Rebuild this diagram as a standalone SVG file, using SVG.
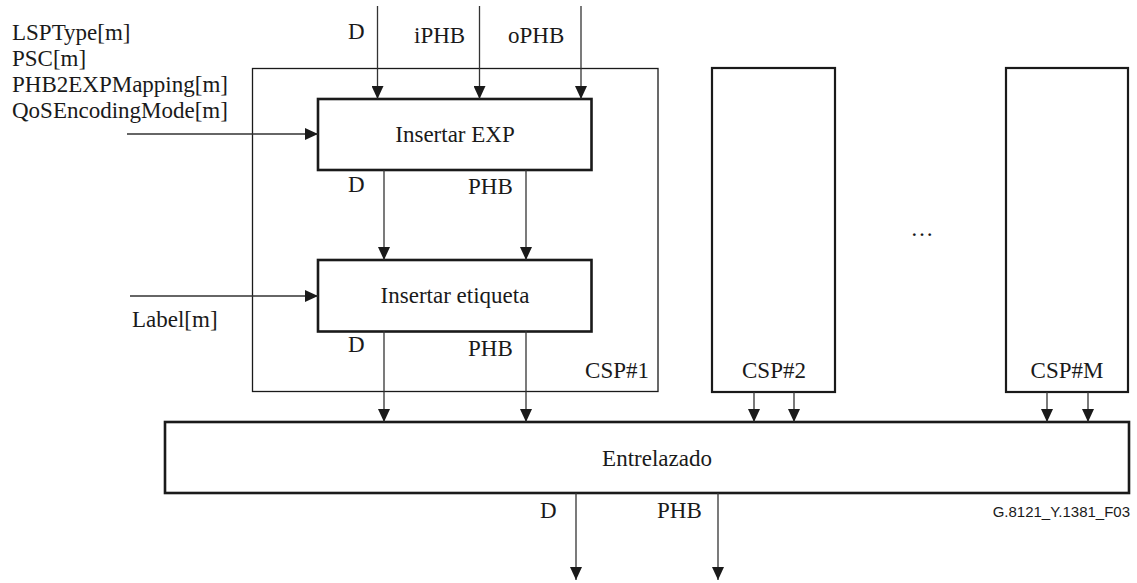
<svg xmlns="http://www.w3.org/2000/svg" width="1137" height="583" viewBox="0 0 1137 583">
  <style>
    .t { font-family: 'Liberation Serif', 'DejaVu Serif', serif; font-size: 23px; fill: #1a1a1a; }
    .c { text-anchor: middle; }
    .code { font-family: 'Liberation Sans', Arial, sans-serif; font-size: 15px; fill: #1a1a1a; text-anchor: end; }
    .blk { fill: #fff; stroke: #1a1a1a; stroke-width: 2.6; }
    .frame { fill: none; stroke: #1a1a1a; stroke-width: 1.3; }
    .csp { fill: #fff; stroke: #1a1a1a; stroke-width: 2.2; }
    .wire { fill: none; stroke: #333; stroke-width: 1.3; marker-end: url(#arr); }
  </style>
  <defs>
    <marker id="arr" viewBox="0 0 13 12" refX="13" refY="6" markerWidth="13" markerHeight="12" markerUnits="userSpaceOnUse" orient="auto">
      <path d="M0,0 L13,6 L0,12 Z" fill="#1a1a1a"/>
    </marker>
  </defs>

  <rect width="1137" height="583" fill="#fff"/>

  <!-- left-hand parameter list -->
  <g id="params">
    <text class="t" x="12" y="40">LSPType[m]</text>
    <text class="t" x="12" y="66">PSC[m]</text>
    <text class="t" x="12" y="92">PHB2EXPMapping[m]</text>
    <text class="t" x="12" y="118">QoSEncodingMode[m]</text>
    <text class="t" x="132" y="327">Label[m]</text>
  </g>

  <!-- CSP#1 enclosure -->
  <g id="csp1">
    <rect class="frame" x="252.5" y="68.5" width="405.5" height="323"/>
    <text class="t" x="649" y="378" text-anchor="end">CSP#1</text>
  </g>

  <g id="insertar-exp">
    <rect class="blk" x="318" y="99" width="273.5" height="71"/>
    <text class="t c" x="455" y="142">Insertar EXP</text>
  </g>

  <g id="insertar-etiqueta">
    <rect class="blk" x="318" y="260" width="273.5" height="71.5"/>
    <text class="t c" x="455" y="303">Insertar etiqueta</text>
  </g>

  <g id="csp2">
    <rect class="csp" x="712" y="68" width="123" height="324"/>
    <text class="t c" x="774" y="378">CSP#2</text>
  </g>

  <g id="cspM">
    <rect class="csp" x="1006" y="68" width="122" height="324"/>
    <text class="t c" x="1067" y="378">CSP#M</text>
  </g>

  <g id="ellipsis">
    <text class="t c" x="922" y="236">…</text>
  </g>

  <g id="entrelazado">
    <rect class="blk" x="165" y="422" width="964" height="71"/>
    <text class="t c" x="657" y="466">Entrelazado</text>
  </g>

  <!-- signal labels -->
  <g id="labels">
    <text class="t" x="348" y="39">D</text>
    <text class="t" x="414" y="43">iPHB</text>
    <text class="t" x="508" y="43">oPHB</text>
    <text class="t" x="348" y="192">D</text>
    <text class="t" x="468" y="194">PHB</text>
    <text class="t" x="348" y="352">D</text>
    <text class="t" x="468" y="356">PHB</text>
    <text class="t" x="540" y="518">D</text>
    <text class="t" x="657" y="518">PHB</text>
    <text class="code" x="1130" y="517">G.8121_Y.1381_F03</text>
  </g>

  <!-- connectors -->
  <g id="connectors">
    <line class="wire" x1="377.5" y1="6" x2="377.5" y2="99"/>
    <line class="wire" x1="479.5" y1="6" x2="479.5" y2="99"/>
    <line class="wire" x1="581" y1="6" x2="581" y2="99"/>
    <line class="wire" x1="127" y1="134" x2="318" y2="134"/>
    <line class="wire" x1="130" y1="296" x2="318" y2="296"/>
    <line class="wire" x1="384" y1="170" x2="384" y2="260"/>
    <line class="wire" x1="526" y1="170" x2="526" y2="260"/>
    <line class="wire" x1="384" y1="331" x2="384" y2="422"/>
    <line class="wire" x1="526" y1="331" x2="526" y2="422"/>
    <line class="wire" x1="754" y1="392" x2="754" y2="422"/>
    <line class="wire" x1="794" y1="392" x2="794" y2="422"/>
    <line class="wire" x1="1047" y1="392" x2="1047" y2="422"/>
    <line class="wire" x1="1088" y1="392" x2="1088" y2="422"/>
    <line class="wire" x1="576" y1="493" x2="576" y2="580"/>
    <line class="wire" x1="718" y1="493" x2="718" y2="580"/>
  </g>
</svg>
